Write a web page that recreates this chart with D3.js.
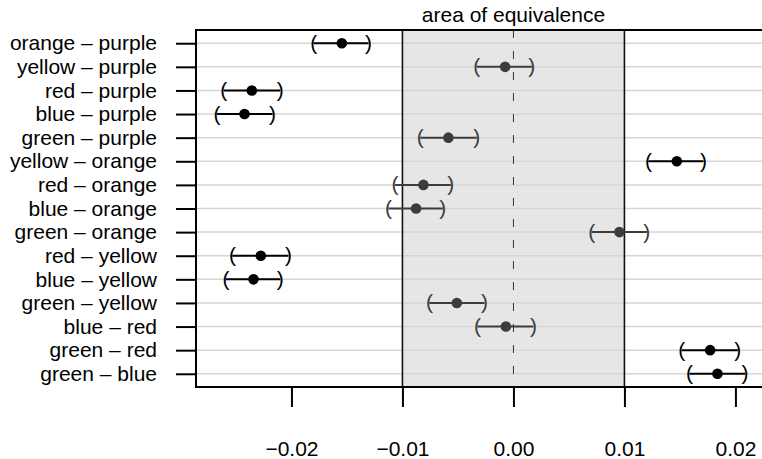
<!DOCTYPE html>
<html>
<head>
<meta charset="utf-8">
<script src="https://cdn.jsdelivr.net/npm/d3@7"></script>
<style>
  body { margin: 0; background: #fff; }
  svg { display: block; overflow: hidden; }
  text { font-family: "Liberation Sans", Arial, sans-serif; }
</style>
</head>
<body>
<script>
var comparisons = ["orange \u2013 purple", "yellow \u2013 purple", "red \u2013 purple", "blue \u2013 purple",
    "green \u2013 purple", "yellow \u2013 orange", "red \u2013 orange", "blue \u2013 orange",
    "green \u2013 orange", "red \u2013 yellow", "blue \u2013 yellow", "green \u2013 yellow",
    "blue \u2013 red", "green \u2013 red", "green \u2013 blue"];
var estimates = [-0.01546, -0.00075, -0.02357, -0.02423, -0.00586, 0.01472, -0.00811, -0.00877,
    0.00955, -0.02276, -0.02342, -0.0051, -0.00068, 0.01772, 0.01838];
var lower = [-0.0180, -0.0033, -0.0261, -0.0267, -0.0084, 0.01216, -0.01066, -0.01126,
    0.00706, -0.02532, -0.0259, -0.00757, -0.00324, 0.01517, 0.01586];
var upper = [-0.01306, 0.00166, -0.0210, -0.0217, -0.0033, 0.01712, -0.00564, -0.00636,
    0.01202, -0.02027, -0.0210, -0.00261, 0.0018, 0.02022, 0.02087];
var tickValues = [-0.02, -0.01, 0, 0.01, 0.02];
var tickLabels = ["\u22120.02", "\u22120.01", "0.00", "0.01", "0.02"];
var equivalence = [-0.01, 0.01];
var xLimits = [-0.0286, 0.0228];

var margin = {top: 30, left: 196},
    width = 570.5,
    height = 357;

var rows = comparisons.map(function(c, i) {
    return {label: c, est: estimates[i], lo: lower[i], hi: upper[i]};
});

var xScale = d3.scaleLinear()
    .domain(xLimits)
    .range([0, width]);

var yScale = d3.scalePoint()
    .domain(comparisons)
    .range([0, height])
    .padding(0.56);

var svg = d3.select('body')
    .append('svg')
    .attr('width', 762)
    .attr('height', 459)
    .append('g')
    .attr('transform', 'translate(' + margin.left + ',' + margin.top + ')');

// shaded area of equivalence
svg.append('rect')
    .attr('x', xScale(equivalence[0]))
    .attr('y', 0)
    .attr('width', xScale(equivalence[1]) - xScale(equivalence[0]))
    .attr('height', height)
    .style('fill', '#e6e6e6');

// horizontal grid lines
svg.selectAll('.grid')
    .data(comparisons)
    .enter()
    .append('line')
    .attr('class', 'grid')
    .attr('x1', 0)
    .attr('x2', width)
    .attr('y1', function(d) { return yScale(d) })
    .attr('y2', function(d) { return yScale(d) })
    .style('stroke', '#d6d6d6')
    .style('stroke-width', 1.5);

// equivalence bounds
svg.selectAll('.bound')
    .data(equivalence)
    .enter()
    .append('line')
    .attr('x1', function(d) { return xScale(d) })
    .attr('x2', function(d) { return xScale(d) })
    .attr('y1', 0)
    .attr('y2', height)
    .style('stroke', '#111')
    .style('stroke-width', 1.6);

// zero line
svg.append('line')
    .attr('x1', xScale(0))
    .attr('x2', xScale(0))
    .attr('y1', 0)
    .attr('y2', height)
    .style('stroke', '#333')
    .style('stroke-width', 1)
    .style('stroke-dasharray', '8,13');

svg.append('text')
    .attr('x', xScale(0))
    .attr('y', 21.7 - margin.top)
    .attr('text-anchor', 'middle')
    .style('font-size', '21px')
    .text('area of equivalence');

function colour(d) {
    return (d.est >= equivalence[0] && d.est <= equivalence[1]) ? '#3c3c3c' : '#000';
}

// confidence intervals
var ci = svg.selectAll('.ci')
    .data(rows)
    .enter()
    .append('g');

ci.append('line')
    .attr('x1', function(d) { return xScale(d.lo) })
    .attr('x2', function(d) { return xScale(d.hi) })
    .attr('y1', function(d) { return yScale(d.label) })
    .attr('y2', function(d) { return yScale(d.label) })
    .style('stroke', colour)
    .style('stroke-width', 2);

ci.append('text')
    .attr('x', function(d) { return xScale(d.lo) })
    .attr('y', function(d) { return yScale(d.label) + 6.5 })
    .attr('text-anchor', 'middle')
    .style('font-size', '21px')
    .style('fill', colour)
    .text('(');

ci.append('text')
    .attr('x', function(d) { return xScale(d.hi) })
    .attr('y', function(d) { return yScale(d.label) + 6.5 })
    .attr('text-anchor', 'middle')
    .style('font-size', '21px')
    .style('fill', colour)
    .text(')');

ci.append('circle')
    .attr('cx', function(d) { return xScale(d.est) })
    .attr('cy', function(d) { return yScale(d.label) })
    .attr('r', 5.3)
    .style('fill', colour);

// plot frame (right side runs past the window)
svg.append('path')
    .attr('d', 'M' + width + ',0H0V' + height + 'H' + width)
    .style('fill', 'none')
    .style('stroke', '#000')
    .style('stroke-width', 2);

// y axis
var yAxis = svg.append('g')
    .attr('transform', 'translate(-20,0)')
    .call(d3.axisLeft(yScale).tickSize(0).tickPadding(19));
yAxis.select('.domain').remove();
yAxis.selectAll('.tick line').remove();
yAxis.selectAll('.tick').append('line')
    .attr('x1', 0)
    .attr('x2', 20)
    .style('stroke', '#000')
    .style('stroke-width', 2);
yAxis.selectAll('.tick text')
    .attr('dy', null)
    .attr('y', 6.7)
    .style('font-size', '21px')
    .style('font-family', '"Liberation Sans", Arial, sans-serif')
    .style('fill', '#000');

// x axis
var xAxis = svg.append('g')
    .attr('transform', 'translate(0,' + height + ')')
    .call(d3.axisBottom(xScale)
        .tickValues(tickValues)
        .tickSize(20)
        .tickFormat(function(d, i) { return tickLabels[i] }));
xAxis.select('.domain').remove();
xAxis.selectAll('.tick line')
    .style('stroke', '#000')
    .style('stroke-width', 2);
xAxis.selectAll('.tick text')
    .attr('dy', null)
    .attr('y', 69)
    .style('font-size', '21px')
    .style('font-family', '"Liberation Sans", Arial, sans-serif')
    .style('fill', '#000');
</script>
</body>
</html>
